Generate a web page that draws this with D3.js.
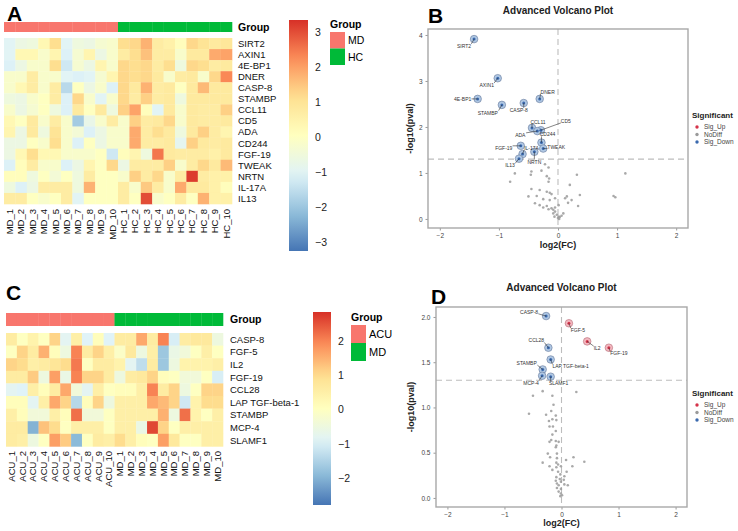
<!DOCTYPE html>
<html>
<head>
<meta charset="utf-8">
<script src="https://cdn.jsdelivr.net/npm/d3@7"></script>
<style>
  html, body { margin: 0; padding: 0; background: #fff; }
  svg { display: block; }
</style>
</head>
<body>
<div id="chart"></div>
<script>
// ---- data: panel A heatmap (MD vs HC) ----
const A_ROWS = ['SIRT2', 'AXIN1', '4E-BP1', 'DNER', 'CASP-8', 'STAMBP', 'CCL11', 'CD5', 'ADA',
  'CD244', 'FGF-19', 'TWEAK', 'NRTN', 'IL-17A', 'IL13'];
const A_COLS = ['MD_1', 'MD_2', 'MD_3', 'MD_4', 'MD_5', 'MD_6', 'MD_7', 'MD_8', 'MD_9', 'MD_10',
  'HC_1', 'HC_2', 'HC_3', 'HC_4', 'HC_5', 'HC_6', 'HC_7', 'HC_8', 'HC_9', 'HC_10'];
const A_GROUPS = ['MD', 'HC'];
const A_VALUES = [
  [-1.0, -0.65, -0.55, 0.3, 1.15, -1.0, -0.55, -0.65, -0.3, -0.2, 1.15, 1.25, 1.75, 0.7, 0.55, 0.1, 1.25, 1.0, 0.8, 0.9],
  [-1.0, 0.3, 0.3, -0.2, 0.4, -1.1, -0.3, 0.4, -0.65, -0.2, 0.7, 1.15, 1.55, 0.7, 0.7, -0.2, 0.8, 0.8, 1.85, 1.95],
  [-1.1, -0.65, -0.2, -0.2, 1.15, -1.3, -0.3, -0.65, 0.4, -0.2, 1.25, 1.15, 1.25, 0.7, 1.15, -0.55, 1.25, 1.15, 0.7, 0.8],
  [-0.2, -0.2, 0.7, -0.2, -0.2, -1.0, -1.1, -1.0, -0.3, 0.4, 1.25, 1.15, 1.25, 0.8, -0.2, 0.7, 0.8, -0.2, 1.25, 2.3],
  [-0.2, 0.3, 0.7, -0.2, 0.7, -1.6, 0.0, -0.65, -0.2, -1.1, 1.25, 0.8, 1.75, 0.7, 0.8, 0.0, 0.8, 1.65, 0.8, 0.8],
  [-0.55, -0.65, -0.2, 0.0, 0.7, -1.1, 1.25, -0.2, -1.0, -0.2, 1.25, 0.7, 1.35, 0.7, 0.8, -0.55, 0.8, 0.8, 0.8, 0.8],
  [-0.2, -0.65, -0.3, 0.0, -0.55, -1.1, 0.8, 0.0, 0.8, -0.55, 1.35, 1.95, 0.1, -1.0, 0.8, -0.2, 0.8, 0.7, 0.7, 1.35],
  [0.3, 0.0, 0.8, -0.2, 0.7, -0.2, -1.9, -0.75, -0.2, 0.7, -0.2, 1.35, 0.7, 0.8, 1.25, -0.2, 0.8, 0.7, 0.7, 0.8],
  [0.4, -0.65, 0.8, -0.55, 1.0, -0.2, -0.4, -1.1, -0.65, -0.2, -0.2, 1.85, 0.7, 1.15, 0.8, -0.55, 0.8, 1.35, 0.7, 0.4],
  [-0.65, -0.65, 0.0, -0.2, 1.15, -0.2, -1.1, 0.0, -0.65, -0.2, -0.2, 1.85, 0.7, 0.7, 0.8, -0.9, 1.35, 0.8, 0.7, 0.8],
  [-0.65, 0.3, 1.15, 0.3, 0.3, -0.2, -0.2, -0.2, 0.0, -1.3, 0.1, 0.4, -0.55, 2.5, 0.8, 0.7, 0.7, 0.7, 0.55, 0.8],
  [-1.1, 0.1, 0.7, -0.2, -0.2, -1.1, -0.65, 0.4, 0.0, 1.25, -0.65, 0.7, 0.7, 0.7, 1.35, -0.2, 0.7, 1.25, 0.8, 1.65],
  [0.1, 0.1, -0.55, 0.0, -0.4, 0.0, -0.55, 0.7, 0.0, 0.0, -0.2, 1.35, 0.7, 1.25, -0.2, 0.7, 3.2, 0.7, 0.55, 0.55],
  [-0.55, -1.1, -0.65, 0.7, 0.7, 0.7, -0.55, 1.75, 0.0, 0.0, 0.7, -0.2, 1.45, 0.7, -0.2, 1.85, 0.8, 0.8, 0.55, 0.1],
  [0.7, 0.7, 0.0, -0.2, 0.0, 0.7, -1.0, 0.0, 0.0, 0.0, 0.7, 0.0, 3.0, -0.2, 0.0, 0.7, 0.0, 1.75, 0.55, 0.55]
];
const A_SCALE = [-3.26, 3.34];
const A_TICKS = [-3, -2, -1, 0, 1, 2, 3];

// ---- data: panel C heatmap (ACU vs MD) ----
const C_ROWS = ['CASP-8', 'FGF-5', 'IL2', 'FGF-19', 'CCL28', 'LAP TGF-beta-1', 'STAMBP', 'MCP-4', 'SLAMF1'];
const C_COLS = ['ACU_1', 'ACU_2', 'ACU_3', 'ACU_4', 'ACU_5', 'ACU_6', 'ACU_7', 'ACU_8', 'ACU_9', 'ACU_10',
  'MD_1', 'MD_2', 'MD_3', 'MD_4', 'MD_5', 'MD_6', 'MD_7', 'MD_8', 'MD_9', 'MD_10'];
const C_GROUPS = ['ACU', 'MD'];
const C_VALUES = [
  [0.6, 0.0, 0.4, 0.0, 1.1, -0.8, 0.5, -0.9, 0.1, -0.9, 0.6, 0.6, 1.6, 0.6, 2.0, -1.0, 0.6, 0.7, 0.7, -0.5],
  [0.0, 1.1, 0.6, 1.5, 0.1, -0.5, 2.0, 0.6, 1.1, 0.5, -0.1, 0.7, -0.5, 0.5, -1.7, -0.6, -0.4, 0.0, 0.5, 0.0],
  [1.1, 1.0, 0.5, 0.6, 0.8, 1.0, 2.1, 0.0, 0.6, 0.6, 0.4, -0.8, -1.3, 0.6, -1.7, -0.5, 0.4, 0.4, 0.4, 0.5],
  [0.6, 0.6, 1.2, -0.5, 1.7, -0.6, 2.0, 1.1, 1.1, 0.6, -0.5, 0.6, 0.7, 1.1, 0.1, 0.0, -0.4, -0.4, 0.0, -1.0],
  [-0.8, -0.9, 0.5, 0.1, 0.6, 1.6, -0.4, -0.8, 0.5, 0.0, 0.1, 0.1, 0.5, 2.0, 0.6, 1.1, -0.5, 0.0, 1.1, 1.1],
  [0.1, 0.1, -0.8, 0.5, 1.6, 1.1, -1.4, 0.1, 1.1, -0.5, 0.5, 0.5, 0.5, 1.6, 1.4, 1.1, -1.1, 0.4, 1.0, 1.0],
  [0.5, 0.1, -0.4, -0.4, 0.5, 0.1, 2.2, -0.4, -0.4, 0.0, 0.5, 0.5, 0.5, 0.5, 1.5, -0.5, 2.2, 0.4, 0.0, 0.5],
  [0.6, 0.6, -2.0, 1.3, 1.0, 0.0, 0.5, 0.5, 0.5, 0.0, 0.5, 0.5, -0.6, 2.6, 1.1, 0.0, 0.5, 0.5, 0.5, 0.5],
  [0.6, 0.5, -0.5, 0.0, 1.7, 1.2, -1.9, 0.0, 0.6, 0.5, 1.0, 0.5, 0.1, 0.0, 1.7, 0.7, 0.0, 0.0, 0.5, 0.5]
];
const C_SCALE = [-2.78, 2.84];
const C_TICKS = [-2, -1, 0, 1, 2];

// ---- data: panel B volcano ----
const B_SIG_NAMES = ['SIRT2', 'AXIN1', '4E-BP1', 'DNER', 'CASP-8', 'STAMBP', 'CCL11', 'CD5', 'ADA',
  'CD244', 'TWEAK', 'FGF-19', 'IL-17A', 'NRTN', 'IL13'];
const B_SIG_FC = [-1.42, -1.02, -1.36, -0.31, -0.58, -0.95, -0.44, -0.29, -0.35, -0.28, -0.25, -0.63, -0.60, -0.40, -0.66];
const B_SIG_P = [3.91, 3.06, 2.61, 2.61, 2.52, 2.48, 1.98, 1.93, 1.91, 1.66, 1.53, 1.59, 1.41, 1.46, 1.31];
const B_SIG_TYPE = ['Sig_Down', 'Sig_Down', 'Sig_Down', 'Sig_Down', 'Sig_Down', 'Sig_Down', 'Sig_Down', 'Sig_Down',
  'Sig_Down', 'Sig_Down', 'Sig_Down', 'Sig_Down', 'Sig_Down', 'Sig_Down', 'Sig_Down'];
const B_NS_FC = [-0.22, -0.16, -0.28, -0.19, -0.73, -0.81, -0.45, -0.46, 0.32, 1.14, -0.15, -0.16, 0.20, -0.45, -0.31,
  -0.19, -0.14, -0.11, -0.50, -0.36, -0.25, -0.14, -0.05, 0.12, 0.23, 0.37, 0.15, 0.94, 0.97, -0.39, -0.31, -0.19,
  -0.11, -0.08, -0.05, 0.01, 0.17, 0.34, -0.02, 0.01, 0.03, 0.06, 0.09, -0.08, -0.16, -0.25, -0.05, 0.00, -0.06, 0.02];
const B_NS_P = [1.19, 1.12, 1.05, 0.93, 0.99, 0.81, 1.03, 0.96, 0.96, 0.99, 0.88, 0.81, 0.74, 0.65, 0.63,
  0.59, 0.57, 0.54, 0.49, 0.50, 0.43, 0.41, 0.45, 0.45, 0.41, 0.52, 0.49, 0.50, 0.47, 0.34, 0.30, 0.28,
  0.23, 0.20, 0.16, 0.30, 0.35, 0.28, 0.09, 0.05, 0.04, 0.07, 0.12, 0.12, 0.21, 0.25, 0.25, 0.02, 0.05, 0.00];
// label offsets (px) from the point, as placed by the repel layout
const B_LABEL_DX = [-10, -11, -15, 8, -5, -14, 6, 25, -17, 6, 13, -17, 9, 0, -9];
const B_LABEL_DY = [7, 7, 0, -7, 7, 8, -6, -9, 4, -8, -1, 2, -6, 10, 7];

// ---- data: panel D volcano ----
const D_SIG_NAMES = ['CASP-8', 'CCL28', 'LAP TGF-beta-1', 'STAMBP', 'MCP-4', 'SLAMF1', 'FGF-5', 'IL2', 'FGF-19'];
const D_SIG_FC = [-0.27, -0.23, -0.19, -0.33, -0.34, -0.19, 0.13, 0.45, 0.83];
const D_SIG_P = [2.01, 1.66, 1.53, 1.42, 1.35, 1.34, 1.93, 1.73, 1.66];
const D_SIG_TYPE = ['Sig_Down', 'Sig_Down', 'Sig_Down', 'Sig_Down', 'Sig_Down', 'Sig_Down', 'Sig_Up', 'Sig_Up', 'Sig_Up'];
const D_NS_FC = [-0.33, 0.26, -0.16, -0.50, -0.14, -0.57, -0.18, -0.27, -0.10, -0.16, -0.22, -0.09, -0.21, -0.15,
  -0.10, -0.16, -0.18, -0.21, -0.10, -0.05, -0.09, -0.10, -0.24, -0.08, -0.20, -0.08, 0.21, 0.40, 0.08, -0.33,
  -0.09, -0.06, -0.21, -0.09, 0.19, -0.01, 0.09, -0.06, -0.02, 0.05, -0.09, -0.03, -0.10, -0.01, -0.08, 0.05,
  0.11, -0.05, -0.08, -0.01, -0.05, -0.01, -0.02, 0.01, 0.04, -0.16];
const D_NS_P = [1.18, 1.17, 1.13, 1.13, 1.03, 0.93, 0.96, 0.92, 0.91, 0.87, 0.85, 0.86, 0.79, 0.79,
  0.74, 0.70, 0.64, 0.62, 0.63, 0.62, 0.58, 0.56, 0.49, 0.49, 0.45, 0.44, 0.45, 0.40, 0.42, 0.39,
  0.39, 0.37, 0.35, 0.34, 0.35, 0.35, 0.29, 0.29, 0.26, 0.24, 0.23, 0.21, 0.19, 0.18, 0.16, 0.15,
  0.14, 0.14, 0.11, 0.10, 0.07, 0.05, 0.02, 0.03, 0.20, 0.31];
const D_LABEL_DX = [-17, -12, 20, -16, -11, 8, 9, 10, 10];
const D_LABEL_DY = [-4, -7, 7, -6, 7, 7, 7, 7, 6];

const SIG_LEVELS = ['Sig_Up', 'NoDiff', 'Sig_Down'];

// ---- style ----
const FONT = '"Liberation Sans", Arial, Helvetica, sans-serif';
const PALETTE = ['#4575B4', '#91BFDB', '#E0F3F8', '#FFFFBF', '#FEE090', '#FC8D59', '#D73027'];
const GROUP_COLOURS = ['#F8766D', '#00BA38'];
const SIG_COLOURS = { Sig_Up: '#D5334A', NoDiff: '#9A9A9A', Sig_Down: '#3A69AE' };
const HALO_FILL = { Sig_Up: '#F2B8C0', Sig_Down: '#AFC7E3' };
const HALO_STROKE = { Sig_Up: '#B56A76', Sig_Down: '#66789A' };

const W = 738, H = 531;
const svg = d3.select('#chart').append('svg')
  .attr('width', W).attr('height', H)
  .style('font-family', FONT);
const defs = svg.append('defs');

function heatColour(domain) {
  const [lo, hi] = domain;
  return d3.scaleLinear()
    .domain(PALETTE.map((_, i) => lo + (hi - lo) * i / (PALETTE.length - 1)))
    .range(PALETTE)
    .interpolate(d3.interpolateRgb)
    .clamp(true);
}

function drawHeatmap(o) {
  const g = svg.append('g');
  const x = d3.scaleBand().domain(o.cols).range([o.x0, o.x1]);
  const y = d3.scaleBand().domain(o.rows).range([o.y0, o.y1]);
  const colour = heatColour(o.scale);
  const half = o.cols.length / o.groups.length;
  const groupOf = (c, i) => o.groups[Math.floor(i / half)];
  const grpColour = d3.scaleOrdinal().domain(o.groups).range(GROUP_COLOURS);

  // annotation bar
  g.selectAll('rect.ann').data(o.cols).join('rect')
    .attr('x', d => x(d)).attr('y', o.annY0)
    .attr('width', x.bandwidth() + 0.3).attr('height', o.annY1 - o.annY0)
    .attr('fill', (d, i) => grpColour(groupOf(d, i)));
  g.append('text')
    .attr('x', o.labelX).attr('y', (o.annY0 + o.annY1) / 2).attr('dy', '0.36em')
    .style('font-size', '10.5px').style('font-weight', 'bold').text('Group');

  // cells
  const cells = [];
  o.values.forEach((row, r) => row.forEach((v, c) => cells.push({ r: o.rows[r], c: o.cols[c], v })));
  g.selectAll('rect.cell').data(cells).join('rect')
    .attr('x', d => x(d.c)).attr('y', d => y(d.r))
    .attr('width', x.bandwidth() + 0.3).attr('height', y.bandwidth() + 0.3)
    .attr('fill', d => colour(d.v));

  // row labels
  g.selectAll('text.row').data(o.rows).join('text')
    .attr('x', o.labelX).attr('y', d => y(d) + y.bandwidth() / 2).attr('dy', '0.36em')
    .style('font-size', o.rowFont).style('fill', '#111').text(d => d);

  // column labels (rotated)
  g.selectAll('text.col').data(o.cols).join('text')
    .attr('transform', d => `translate(${x(d) + x.bandwidth() / 2 + 3.3},${o.colLabelY}) rotate(-90)`)
    .attr('text-anchor', 'end')
    .style('font-size', o.colFont).style('fill', '#111').text(d => d);

  // colour bar
  const gid = 'grad-' + o.id;
  const grad = defs.append('linearGradient').attr('id', gid)
    .attr('x1', 0).attr('y1', 1).attr('x2', 0).attr('y2', 0);
  d3.range(0, 1.0001, 0.05).forEach(t => {
    grad.append('stop').attr('offset', t)
      .attr('stop-color', colour(o.scale[0] + t * (o.scale[1] - o.scale[0])));
  });
  const by = d3.scaleLinear().domain(o.scale).range([o.bar.y1, o.bar.y0]);
  g.append('rect')
    .attr('x', o.bar.x).attr('y', o.bar.y0)
    .attr('width', o.bar.w).attr('height', o.bar.y1 - o.bar.y0)
    .attr('fill', `url(#${gid})`);
  const ax = g.append('g')
    .attr('transform', `translate(${o.bar.x + o.bar.w},0)`)
    .call(d3.axisRight(by).tickValues(o.ticks).tickFormat(d3.format('d')).tickSize(0).tickPadding(7));
  ax.select('.domain').remove();
  ax.selectAll('text').style('font-size', '10.5px').style('font-family', FONT).attr('fill', '#222');

  // group legend
  const lg = g.append('g').attr('transform', `translate(${o.legend.x},${o.legend.y})`);
  lg.append('text').attr('x', 0).attr('y', 0)
    .style('font-size', '10.5px').style('font-weight', 'bold').text('Group');
  o.groups.forEach((grp, i) => {
    lg.append('rect')
      .attr('x', 0).attr('y', o.legend.top + i * o.legend.h)
      .attr('width', 15).attr('height', o.legend.h)
      .attr('fill', grpColour(grp));
    lg.append('text')
      .attr('x', 18).attr('y', o.legend.top + i * o.legend.h + o.legend.h / 2).attr('dy', '0.36em')
      .style('font-size', o.legend.font).text(grp);
  });
}

function drawVolcano(o) {
  const g = svg.append('g');
  const x = d3.scaleLinear().domain([-2.2, 2.2]).range([o.left, o.right]);
  const y = d3.scaleLinear().domain(o.yDomain).range([o.bottom, o.top]);

  // title
  g.append('text')
    .attr('x', (o.left + o.right) / 2).attr('y', o.titleY)
    .attr('text-anchor', 'middle')
    .style('font-size', '10px').style('font-weight', 'bold').style('fill', '#222')
    .text('Advanced Volcano Plot');

  // axes
  const xa = g.append('g').attr('transform', `translate(0,${o.bottom})`)
    .call(d3.axisBottom(x).tickValues([-2, -1, 0, 1, 2]).tickFormat(d3.format('d')).tickSize(2.5).tickPadding(3));
  const ya = g.append('g').attr('transform', `translate(${o.left},0)`)
    .call(d3.axisLeft(y).tickValues(o.yTicks).tickFormat(d3.format(o.yFormat)).tickSize(2.5).tickPadding(3));
  [xa, ya].forEach(a => {
    a.select('.domain').remove();
    a.selectAll('line').attr('stroke', '#555').attr('stroke-width', 0.6);
    a.selectAll('text').style('font-size', '6.5px').style('font-family', FONT).attr('fill', '#444');
  });

  // threshold lines
  g.append('line')
    .attr('x1', o.left).attr('x2', o.right).attr('y1', y(1.301)).attr('y2', y(1.301))
    .attr('stroke', '#BDBDBD').attr('stroke-width', 1.1).attr('stroke-dasharray', '6,4');
  g.append('line')
    .attr('x1', x(0)).attr('x2', x(0)).attr('y1', o.top).attr('y2', o.bottom)
    .attr('stroke', '#BDBDBD').attr('stroke-width', 1.1).attr('stroke-dasharray', '6,4');

  // non-significant points
  const ns = o.nsFC.map((fc, i) => ({ fc, p: o.nsP[i] }));
  g.selectAll('circle.ns').data(ns).join('circle')
    .attr('cx', d => x(d.fc)).attr('cy', d => y(d.p)).attr('r', 1.3)
    .attr('fill', SIG_COLOURS.NoDiff).attr('fill-opacity', 0.85);

  // significant points with halo
  const sig = o.sigNames.map((n, i) => ({
    name: n, fc: o.sigFC[i], p: o.sigP[i], type: o.sigType[i], dx: o.dx[i], dy: o.dy[i]
  }));
  g.selectAll('circle.halo').data(sig).join('circle')
    .attr('cx', d => x(d.fc)).attr('cy', d => y(d.p)).attr('r', 3.8)
    .attr('fill', d => HALO_FILL[d.type]).attr('stroke', d => HALO_STROKE[d.type]).attr('stroke-width', 0.6);
  g.selectAll('circle.sig').data(sig).join('circle')
    .attr('cx', d => x(d.fc)).attr('cy', d => y(d.p)).attr('r', 1.5)
    .attr('fill', d => SIG_COLOURS[d.type]);

  // labels with leader segments
  sig.forEach(d => {
    const px = x(d.fc), py = y(d.p);
    const t = g.append('text')
      .attr('x', px + d.dx).attr('y', py + d.dy).attr('dy', '0.35em')
      .attr('text-anchor', 'middle')
      .style('font-size', '5px').style('fill', '#333').text(d.name);
    const b = t.node().getBBox();
    const qx = Math.max(b.x, Math.min(px, b.x + b.width));
    const qy = Math.max(b.y + 1, Math.min(py, b.y + b.height - 1));
    if (Math.hypot(qx - px, qy - py) > 3) {
      g.append('line').attr('x1', qx).attr('y1', qy).attr('x2', px).attr('y2', py)
        .attr('stroke', '#333').attr('stroke-width', 0.6);
    }
  });

  // panel frame
  g.append('rect')
    .attr('x', o.left).attr('y', o.top)
    .attr('width', o.right - o.left).attr('height', o.bottom - o.top)
    .attr('fill', 'none').attr('stroke', '#A8A8A8').attr('stroke-width', 1.4);

  // axis titles
  g.append('text')
    .attr('x', x(0)).attr('y', o.xTitleY).attr('text-anchor', 'middle')
    .style('font-size', '9px').style('font-weight', 'bold').style('fill', '#222').text('log2(FC)');
  g.append('text')
    .attr('transform', `translate(${o.yTitleX},${(o.top + o.bottom) / 2}) rotate(-90)`)
    .attr('text-anchor', 'middle')
    .style('font-size', '9px').style('font-weight', 'bold').style('fill', '#222').text('-log10(pval)');

  // legend
  const lg = g.append('g').attr('transform', `translate(${o.legendX},${o.legendY})`);
  lg.append('text').attr('x', 0).attr('y', 0)
    .style('font-size', '8px').style('font-weight', 'bold').style('fill', '#222').text('Significant');
  SIG_LEVELS.forEach((lvl, i) => {
    lg.append('circle').attr('cx', 5).attr('cy', 9 + i * 7.5).attr('r', 1.7).attr('fill', SIG_COLOURS[lvl]);
    lg.append('text').attr('x', 12).attr('y', 9 + i * 7.5).attr('dy', '0.35em')
      .style('font-size', '6.5px').style('fill', '#444').text(lvl);
  });
}

drawHeatmap({
  id: 'A', rows: A_ROWS, cols: A_COLS, values: A_VALUES, groups: A_GROUPS, scale: A_SCALE, ticks: A_TICKS,
  x0: 4, x1: 232, annY0: 22, annY1: 32, y0: 38, y1: 204, labelX: 238, colLabelY: 209,
  rowFont: '9.5px', colFont: '9.5px',
  bar: { x: 289, w: 19, y0: 20, y1: 251 },
  legend: { x: 330, y: 28, top: 4, h: 16.5, font: '10.5px' }
});

drawHeatmap({
  id: 'C', rows: C_ROWS, cols: C_COLS, values: C_VALUES, groups: C_GROUPS, scale: C_SCALE, ticks: C_TICKS,
  x0: 6, x1: 223, annY0: 313, annY1: 326, y0: 333, y1: 446.4, labelX: 230, colLabelY: 451,
  rowFont: '9.5px', colFont: '9.5px',
  bar: { x: 313, w: 18, y0: 312, y1: 505 },
  legend: { x: 351, y: 321, top: 4, h: 18, font: '11px' }
});

drawVolcano({
  left: 428, right: 688, top: 29, bottom: 228, yDomain: [-0.197, 4.13], yTicks: [0, 1, 2, 3, 4], yFormat: 'd',
  titleY: 14, xTitleY: 248, yTitleX: 413, legendX: 692, legendY: 118,
  sigNames: B_SIG_NAMES, sigFC: B_SIG_FC, sigP: B_SIG_P, sigType: B_SIG_TYPE,
  nsFC: B_NS_FC, nsP: B_NS_P, dx: B_LABEL_DX, dy: B_LABEL_DY
});

drawVolcano({
  left: 436, right: 687, top: 307, bottom: 507, yDomain: [-0.1, 2.11], yTicks: [0, 0.5, 1, 1.5, 2], yFormat: '.1f',
  titleY: 291, xTitleY: 526, yTitleX: 414, legendX: 692, legendY: 396,
  sigNames: D_SIG_NAMES, sigFC: D_SIG_FC, sigP: D_SIG_P, sigType: D_SIG_TYPE,
  nsFC: D_NS_FC, nsP: D_NS_P, dx: D_LABEL_DX, dy: D_LABEL_DY
});

// panel letters
const LETTERS = ['A', 'B', 'C', 'D'];
const LETTER_POS = [[7, 21], [428, 23], [6, 300], [431, 304]];
svg.selectAll('text.letter').data(LETTERS).join('text')
  .attr('x', (d, i) => LETTER_POS[i][0]).attr('y', (d, i) => LETTER_POS[i][1])
  .style('font-size', '21px').style('font-weight', 'bold').style('fill', '#000')
  .text(d => d);
</script>
</body>
</html>
